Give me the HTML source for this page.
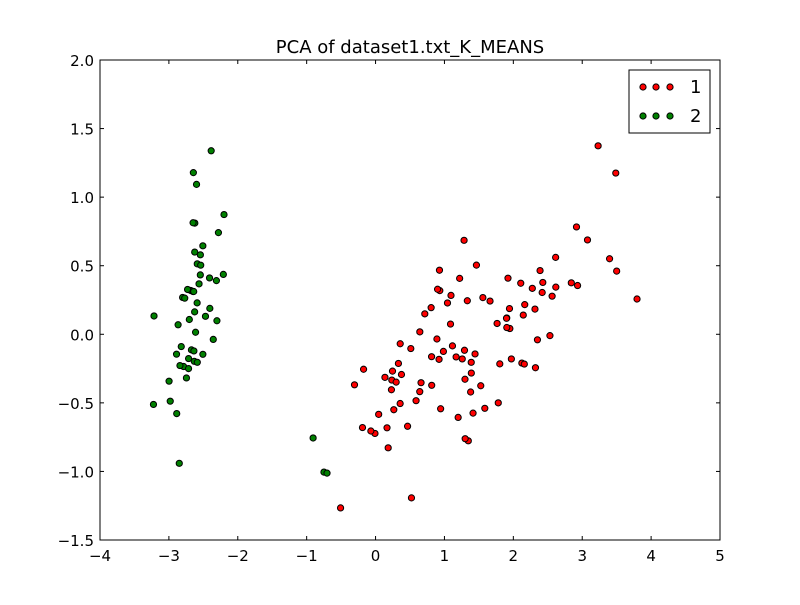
<!DOCTYPE html>
<html><head><meta charset="utf-8"><style>
body{margin:0;background:#fff;font-family:"Liberation Sans","DejaVu Sans",sans-serif;}
svg text{font-family:"DejaVu Sans","Liberation Sans",sans-serif;}
</style></head><body>
<svg id="chart" width="800" height="600" xmlns="http://www.w3.org/2000/svg"></svg>
<script>
const xTicks=[-4,-3,-2,-1,0,1,2,3,4,5];
const yTicks=[-1.5,-1.0,-0.5,0.0,0.5,1.0,1.5,2.0];
const cluster1X=[1.28482569,0.93248853,1.46430232,0.18331772,1.08810326,0.64166908,1.09506066,1.04413183,-0.0087454,-0.50784088,0.51169856,0.26497651,0.98493451,-0.17392537,0.92786078,0.66028376,0.23610499,0.94473373,0.04522698,1.11628318,0.35788842,1.29818388,0.92172892,0.71485333,0.90017437,1.33202444,1.55780216,0.81329065,-0.30558378,-0.06812649,-0.18962247,0.13642871,1.38002644,0.58800644,0.80685831,1.22069088,0.81509524,0.24595768,0.16641322,0.46480029,0.8908152,0.23054802,0.35698149,0.33193448,0.37621565,0.64257601,0.29900084,2.53119273,1.41523588,2.61667602,1.97153105,2.35000592,3.39703874,0.52123224,2.93258707,2.32122882,2.91675097,1.66177415,1.80340195,2.1655918,1.34616358,1.58592822,1.90445637,1.94968906,3.48705536,3.79564542,1.30079171,2.42781791,1.19900111,3.49992004,1.38876613,2.2754305,2.61409047,1.25850816,1.29113206,2.12360872,2.38800302,2.84167278,3.23067366,2.15943764,1.44416124,1.78129481,3.07649993,2.14424331,1.90509815,1.16932634,2.10761114,2.31415471,1.9222678,2.56301338,2.41874618,1.94410979,1.52716661,1.76434572,1.90094161,1.39018886];
const cluster1Y=[0.68516047,0.31833364,0.50426282,-0.82795901,0.07459068,-0.41824687,0.28346827,0.2283619,-0.72308191,-1.26597119,-0.10398124,-0.55003646,-0.12481785,-0.25485421,0.46717949,-0.35296967,-0.33361077,-0.54314555,-0.58383438,-0.08461685,-0.06892503,-0.32778731,-0.18273779,0.14905594,0.32850447,0.24444088,0.26749545,-0.1633503,-0.36826219,-0.70517213,-0.68028676,-0.31403244,-0.42095429,-0.48428742,0.19418231,0.40761959,-0.37203706,-0.2685244,-0.68192672,-0.67071154,-0.03446444,-0.40438585,-0.50491009,-0.21265468,-0.29321893,0.01773819,-0.34889781,-0.00984911,-0.57491635,0.34390315,-0.1797279,-0.04026095,0.55083667,-1.19275873,0.3555,-0.2438315,0.78279195,0.24222841,-0.21563762,0.21627559,-0.77681835,-0.53964071,0.11925069,0.04194326,1.17573933,0.25732297,-0.76114964,0.37819601,-0.60609153,0.4606741,-0.20439933,0.33499061,0.56090136,-0.17970479,-0.11666865,-0.20972948,0.4646398,0.37526917,1.37416509,-0.21727758,-0.14341341,-0.49990168,0.68808568,0.1400642,0.04930053,-0.16499026,0.37228787,0.18365128,0.40920347,0.2778626,0.3047982,0.1875323,-0.37531698,0.07885885,0.11662796,-0.28266094];
const cluster2X=[-2.68412563,-2.71414169,-2.88899057,-2.74534286,-2.72871654,-2.28085963,-2.82053775,-2.62614497,-2.88638273,-2.6727558,-2.50694709,-2.61275523,-2.78610927,-3.22380374,-2.64475039,-2.38603903,-2.62352788,-2.64829671,-2.19982032,-2.5879864,-2.31025622,-2.54370523,-3.21593942,-2.30273318,-2.35575405,-2.50666891,-2.46882007,-2.56231991,-2.63953472,-2.63198939,-2.58739848,-2.4099325,-2.64886233,-2.59873675,-2.63692688,-2.86624165,-2.62523805,-2.80068412,-2.98050204,-2.59000631,-2.77010243,-2.84936871,-2.99740655,-2.40561449,-2.20948924,-2.71445143,-2.53814826,-2.83946217,-2.54308575,-2.70335978,-0.74912267,-0.70453176,-0.90646986];
const cluster2Y=[0.31939725,-0.17700123,-0.14494943,-0.31829898,0.32675451,0.74133045,-0.08946138,0.16338496,-0.57831175,-0.11377425,0.6450689,0.01472994,-0.235112,-0.51139459,1.17876464,1.33806233,0.81067951,0.31184914,0.87283904,0.51356031,0.39134594,0.43299606,0.13346807,0.09870885,-0.03728186,-0.14601688,0.13095149,0.36771886,0.31203998,-0.19696122,-0.20431849,0.41092426,0.81336382,1.09314576,-0.12132235,0.06936447,0.59937002,0.26864374,-0.48795834,0.22904384,0.26352753,-0.94096057,-0.34192606,0.18887143,0.43666314,-0.2502082,0.50377114,-0.22794557,0.57941002,0.10770608,-1.00489096,-1.01224823,-0.75609337];
const seriesLabels=["1","2"];
const NS="http://www.w3.org/2000/svg";
const svg=document.getElementById('chart');
const L=100,R=720,T=60,B=540;
const sx=v=>L+(v-(-4))/(5-(-4))*(R-L);
const sy=v=>B-(v-(-1.5))/(2.0-(-1.5))*(B-T);
function mk(tag,attrs){const e=document.createElementNS(NS,tag);for(const k in attrs)e.setAttribute(k,attrs[k]);svg.appendChild(e);return e;}
const title=mk('text',{x:410,y:53,'text-anchor':'middle','font-size':18,fill:'#000'});
title.textContent='PCA of dataset1.txt_K_MEANS';


function drawPts(xs,ys,color,name){
  for(let i=0;i<xs.length;i++){
    const c=mk('circle',{cx:sx(xs[i]),cy:sy(ys[i]),r:3.1,fill:color,stroke:'#000','stroke-width':1});
    
    
  }
}
drawPts(cluster1X,cluster1Y,'#ff0000','cluster-1-point');
drawPts(cluster2X,cluster2Y,'#008000','cluster-2-point');
const frame=mk('rect',{x:L,y:T,width:R-L,height:B-T,fill:'none',stroke:'#000','stroke-width':1});


xTicks.forEach(v=>{
  const x=sx(v);
  mk('line',{x1:x,y1:B,x2:x,y2:B-4,stroke:'#000'});
  mk('line',{x1:x,y1:T,x2:x,y2:T+4,stroke:'#000'});
  const t=mk('text',{x:x,y:B+21,'text-anchor':'middle','font-size':15});
  t.textContent=v<0?'\u2212'+Math.abs(v):String(v);
  
  
});
yTicks.forEach(v=>{
  const y=sy(v);
  mk('line',{x1:L,y1:y,x2:L+4,y2:y,stroke:'#000'});
  mk('line',{x1:R,y1:y,x2:R-4,y2:y,stroke:'#000'});
  const t=mk('text',{x:L-6,y:y+6,'text-anchor':'end','font-size':15});
  t.textContent=(v<0?'\u2212':'')+Math.abs(v).toFixed(1);
  
  
});
const lg=mk('rect',{x:629,y:70,width:81,height:63,fill:'#fff',stroke:'#000'});


const colors=['#ff0000','#008000'];
seriesLabels.forEach((s,i)=>{
  const y=87+i*29;
  [643,656,670].forEach(x=>{const c=mk('circle',{cx:x,cy:y,r:3.1,fill:colors[i],stroke:'#000'});
    
    });
  const t=mk('text',{x:690,y:y+6,'font-size':18});
  t.textContent=s;
  
  
});
</script>
</body></html>
